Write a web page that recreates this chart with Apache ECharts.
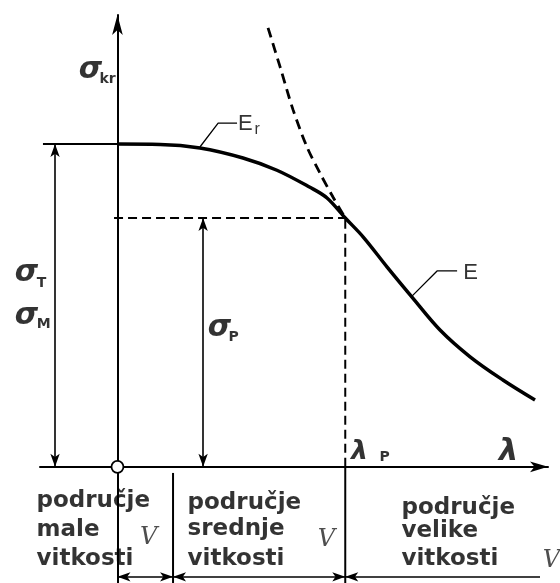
<!DOCTYPE html>
<html>
<head>
<meta charset="utf-8">
<script src="https://cdn.jsdelivr.net/npm/echarts@6/dist/echarts.min.js"></script>
<style>
    html, body { margin: 0; padding: 0; background: #fff; }
    #main { width: 560px; height: 583px; }
</style>
</head>
<body>
<div id="main"></div>
<script>
// λ in units where λP = 100, σ in units where σT = 100
const tetLam = [0, 18.7, 36.2, 55.1, 70.0, 84.5, 92.0, 100];
const tetSig = [100, 99.9, 98.8, 95.7, 91.9, 86.6, 83.3, 77.1];
const eulLam = [107.9, 118.4, 129.3, 141.6, 154.8, 169.2, 183.3];
const eulSig = [71.2, 61.9, 52.6, 42.4, 34.1, 26.9, 20.7];
const eulDashLam = [66.1, 71.4, 77.1, 83.2, 88.9, 94.6, 100];
const eulDashSig = [136.0, 123.9, 110.6, 99.1, 91.0, 83.6, 77.1];
const lamP = 100;
const sigP = 77.1;
const sigT = 100;
const lamZone = 24.4;
const zoneTexts = [
    ['područje', 'male', 'vitkosti'],
    ['područje', 'srednje', 'vitkosti'],
    ['područje', 'velike', 'vitkosti']
];

function zip(a, b) {
    return a.map(function (v, i) { return [v, b[i]]; });
}

let myChart = echarts.init(document.getElementById('main'));

const black = '#000';
const bottomY = -34.1;   // dimension arrows under the zones
const tableLow = -36;

// label helpers (rich text so the colour is forced)
const sigmaFont = {fontFamily: 'DejaVu Sans', fontWeight: 'bold', fontStyle: 'italic', fontSize: 30, color: black};
const subFont = {fontFamily: 'DejaVu Sans', fontWeight: 'bold', fontSize: 14, color: black};
const zoneFont = {fontFamily: 'DejaVu Sans', fontWeight: 'bold', fontSize: 23, color: black};
const eFont = {fontFamily: 'Liberation Sans', fontSize: 22, color: black};
const tickFont = {fontFamily: 'DejaVu Serif', fontStyle: 'italic', fontSize: 24, color: '#222'};

function note(x, y, text, font, align) {
    return {
        value: [x, y],
        label: {
            show: true, position: [0, 0], align: align || 'center', verticalAlign: 'middle',
            color: font.color, formatter: '{t|' + text + '}', rich: {t: font}
        }
    };
}

let notes = [
    note(-11.6, 122.6, 'σ', sigmaFont),
    note(-4.1, 119.9, 'kr', subFont),
    note(-39.7, 59.7, 'σ', sigmaFont),
    note(-33.1, 56.6, 'T', subFont),
    note(-39.7, 46.4, 'σ', sigmaFont),
    note(-32.2, 43.9, 'M', subFont),
    note(45.0, 42.7, 'σ', sigmaFont),
    note(51.2, 39.9, 'P', subFont),
    note(106.5, 4.3, 'λ', Object.assign({}, sigmaFont, {fontSize: 27})),
    note(117.5, 2.7, 'P', subFont),
    note(171.9, 4.3, 'λ', Object.assign({}, sigmaFont, {fontSize: 31})),
    note(56.4, 106.2, 'E', eFont),
    note(61.5, 104.4, 'r', Object.assign({}, eFont, {fontSize: 16})),
    note(155.2, 60.0, 'E', eFont),
    note(13.9, -22.1, 'V', tickFont),
    note(92.0, -22.7, 'V', tickFont),
    note(190.7, -29.2, 'V', tickFont)
];
// zone descriptions
const zoneX = [-35.3, 31.0, 124.9];
const zoneRows = [[-10.9, -19.6, -28.6], [-11.3, -19.4, -28.6], [-12.8, -19.9, -28.6]];
zoneTexts.forEach(function (lines, i) {
    lines.forEach(function (t, j) {
        notes.push(note(zoneX[i], zoneRows[i][j], t, zoneFont, 'left'));
    });
});

function plain(pts, width, dash) {
    return {
        type: 'line', data: pts, symbol: 'none', smooth: false, silent: true, z: 3,
        lineStyle: {color: black, width: width, type: dash || 'solid'}
    };
}

let option = {
    animation: false,
    backgroundColor: '#fff',
    textStyle: {color: black},
    grid: {left: 40, right: 12, top: 15, bottom: 0},
    xAxis: {
        type: 'value', min: -34, max: 189,
        axisLine: {onZero: true, symbol: ['none', 'arrow'], symbolSize: [8, 18],
            lineStyle: {color: black, width: 2}},
        axisTick: {show: false}, axisLabel: {show: false}, splitLine: {show: false}
    },
    yAxis: {
        type: 'value', min: tableLow, max: 140,
        axisLine: {onZero: true, symbol: ['none', 'arrow'], symbolSize: [8, 20],
            lineStyle: {color: black, width: 2}},
        axisTick: {show: false}, axisLabel: {show: false}, splitLine: {show: false}
    },
    series: [
        // E_r (Tetmajer) joined to E (Euler) - one continuous curve
        {type: 'line', data: zip(tetLam, tetSig).concat(zip(eulLam, eulSig)), symbol: 'none',
            smooth: 0.35, silent: true, z: 4, lineStyle: {color: black, width: 3.5}},
        // Euler extension, dashed
        {type: 'line', data: zip(eulDashLam, eulDashSig), symbol: 'none', smooth: 0.3,
            silent: true, z: 4, lineStyle: {color: black, width: 2.8, type: [10, 6]}},
        // σP and λP guides
        plain([[-1.5, sigP], [lamP, sigP]], 2, [9, 5]),
        plain([[lamP, 0], [lamP, sigP]], 2, [9, 5]),
        // σT level
        plain([[-32.7, sigT], [0, sigT]], 2),
        // zone separators
        plain([[lamP, tableLow], [lamP, 0]], 2),
        plain([[lamZone, tableLow], [lamZone, -1.9]], 2),
        // leaders
        plain([[36.2, 99.1], [44.2, 106.5], [52.5, 106.5]], 1.3),
        plain([[129.3, 52.9], [140.3, 60.7], [149.1, 60.7]], 1.3),
        // dimension arrows
        {
            type: 'line', data: [], symbol: 'none', silent: true, z: 3,
            markLine: {
                silent: true, symbol: ['arrow', 'arrow'], symbolSize: [7, 13],
                label: {show: false},
                lineStyle: {color: black, width: 1.6, type: 'solid'},
                data: [
                    [{coord: [-27.4, 0]}, {coord: [-27.4, sigT]}],
                    [{coord: [37.6, 0]}, {coord: [37.6, sigP]}],
                    [{coord: [0, bottomY]}, {coord: [lamZone, bottomY]}],
                    [{coord: [lamZone, bottomY]}, {coord: [lamP, bottomY]}],
                    [{coord: [lamP, bottomY], symbol: 'arrow'}, {coord: [185.5, bottomY], symbol: 'none'}]
                ]
            }
        },
        // origin circle
        {type: 'scatter', data: [[0, 0]], symbol: 'circle', symbolSize: 12, silent: true, z: 6,
            itemStyle: {color: '#fff', borderColor: black, borderWidth: 1.8, opacity: 1}},
        // texts
        {type: 'scatter', data: notes, symbolSize: 1, silent: true, clip: false, z: 7,
            itemStyle: {color: 'rgba(0,0,0,0)'}}
    ]
};
myChart.setOption(option);
</script>
</body>
</html>
